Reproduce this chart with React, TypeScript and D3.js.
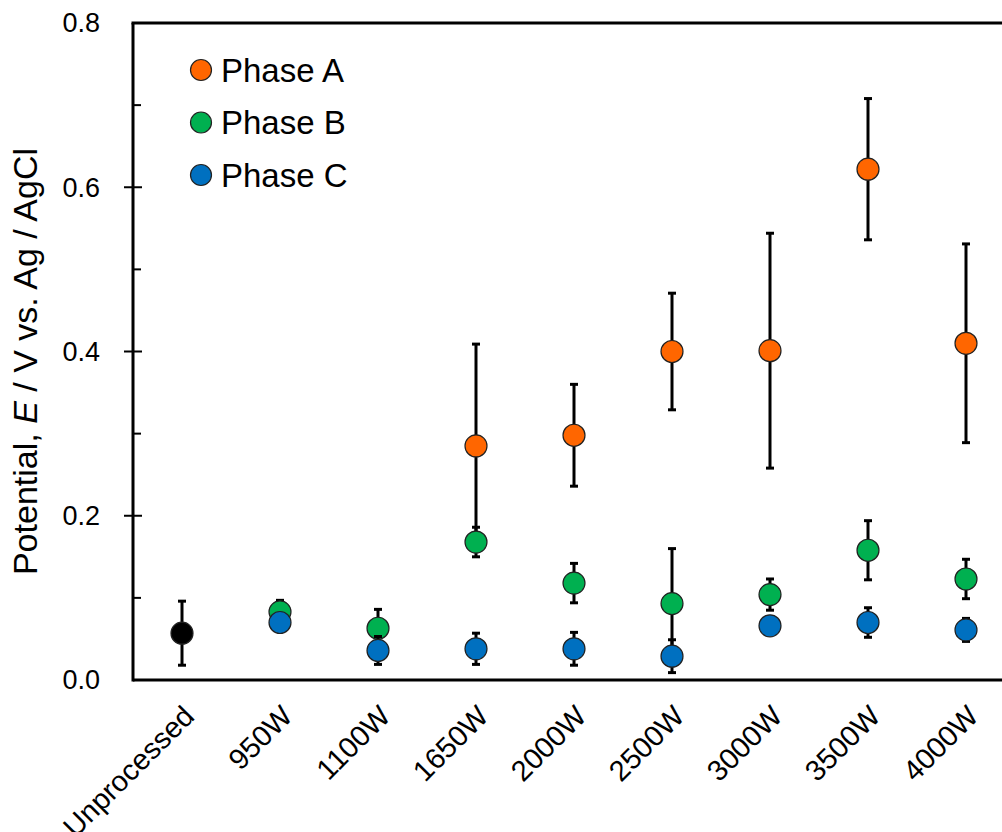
import * as d3 from "d3";
import { useEffect } from "react";

const categories = ["Unprocessed", "950W", "1100W", "1650W", "2000W", "2500W", "3000W", "3500W", "4000W"];

// Unprocessed reference point
const unprocessedMean = [0.057, null, null, null, null, null, null, null, null];
const unprocessedErr = [0.039, null, null, null, null, null, null, null, null];

const phaseA = [null, null, null, 0.285, 0.298, 0.4, 0.401, 0.622, 0.41];
const phaseAErr = [null, null, null, 0.124, 0.062, 0.071, 0.143, 0.086, 0.121];

const phaseB = [null, 0.083, 0.063, 0.168, 0.118, 0.093, 0.104, 0.158, 0.123];
const phaseBErr = [null, 0.014, 0.023, 0.018, 0.024, 0.067, 0.019, 0.036, 0.024];

const phaseC = [null, 0.07, 0.036, 0.038, 0.038, 0.029, 0.066, 0.07, 0.061];
const phaseCErr = [null, 0.008, 0.017, 0.019, 0.02, 0.02, 0.008, 0.018, 0.014];

const yTicks = [0, 0.2, 0.4, 0.6, 0.8];
const yMinorTicks = [0.1, 0.3, 0.5, 0.7];

const series = [
  { name: "Unprocessed", values: unprocessedMean, errs: unprocessedErr, color: "#000000", legend: false },
  { name: "Phase A", values: phaseA, errs: phaseAErr, color: "#ff6600", legend: true },
  { name: "Phase B", values: phaseB, errs: phaseBErr, color: "#00b050", legend: true },
  { name: "Phase C", values: phaseC, errs: phaseCErr, color: "#0070c0", legend: true },
];

const W = 1002;
const H = 832;
const margin = { top: 23, left: 133, bottom: 152 };
const font = "'Liberation Sans', Arial, sans-serif";

const App = () => {
  useEffect(() => {
    document.body.style.margin = "0";
  }, []);

  const x = d3.scaleBand().domain(categories).range([margin.left, margin.left + 9 * 98]).padding(0);
  const y = d3.scaleLinear().domain([0, 0.8]).range([H - margin.bottom, margin.top]);
  const cx = (c: string) => (x(c) ?? 0) + x.bandwidth() / 2;
  const r = 11;
  const cap = 4;

  return (
    <svg width={W} height={H} style={{ display: "block", background: "#fff" }} fontFamily={font}>
      {/* frame */}
      <g stroke="#000" strokeWidth={3} fill="none">
        <line x1={margin.left} x2={margin.left} y1={y(0.8)} y2={y(0) + 1.5} />
        <line x1={margin.left} x2={W + 20} y1={y(0)} y2={y(0)} />
        <line x1={margin.left - 1.5} x2={W + 20} y1={y(0.8)} y2={y(0.8)} />
      </g>
      {/* y ticks */}
      <g stroke="#000" strokeWidth={2}>
        {yTicks.slice(1, 4).map((t) => (
          <line key={t} x1={margin.left - 9} x2={margin.left + 9} y1={y(t)} y2={y(t)} />
        ))}
        {yMinorTicks.map((t) => (
          <line key={t} x1={margin.left} x2={margin.left + 8} y1={y(t)} y2={y(t)} />
        ))}
      </g>
      <g fontSize={27} textAnchor="end" fill="#000">
        {yTicks.map((t) => (
          <text key={t} x={100} y={y(t)} dy="0.35em">
            {d3.format(".1f")(t)}
          </text>
        ))}
      </g>
      <text
        transform={`translate(37, ${y(0.4) + 10}) rotate(-90)`}
        textAnchor="middle"
        fontSize={34}
        fill="#000"
      >
        Potential, <tspan fontStyle="italic">E</tspan> / V vs. Ag / AgCl
      </text>
      {/* x labels */}
      <g fontSize={29} textAnchor="end" fill="#000">
        {categories.map((c) => (
          <text key={c} transform={`translate(${cx(c) + 14}, ${y(0) + 38}) rotate(-45)`}>
            {c}
          </text>
        ))}
      </g>
      {/* series */}
      {series.map((s) => (
        <g key={s.name}>
          {categories.map((c, i) => {
            const v = s.values[i];
            const e = s.errs[i];
            if (v == null) return null;
            const px = cx(c);
            return (
              <g key={c}>
                {e != null && (
                  <g stroke="#000" strokeWidth={3}>
                    <line x1={px} x2={px} y1={y(v + e)} y2={y(v - e)} />
                    <line x1={px - cap} x2={px + cap} y1={y(v + e)} y2={y(v + e)} />
                    <line x1={px - cap} x2={px + cap} y1={y(v - e)} y2={y(v - e)} />
                  </g>
                )}
                <circle cx={px} cy={y(v)} r={r} fill={s.color} stroke="#222" strokeWidth={1.2} />
              </g>
            );
          })}
        </g>
      ))}
      {/* legend */}
      <g fontSize={33} fill="#000">
        {series
          .filter((s) => s.legend)
          .map((s, i) => (
            <g key={s.name} transform={`translate(201, ${70 + i * 52.5})`}>
              <circle cx={0} cy={0} r={10.5} fill={s.color} stroke="#222" strokeWidth={1.2} />
              <text x={20} y={0} dy="0.36em">
                {s.name}
              </text>
            </g>
          ))}
      </g>
    </svg>
  );
};

export default App;
